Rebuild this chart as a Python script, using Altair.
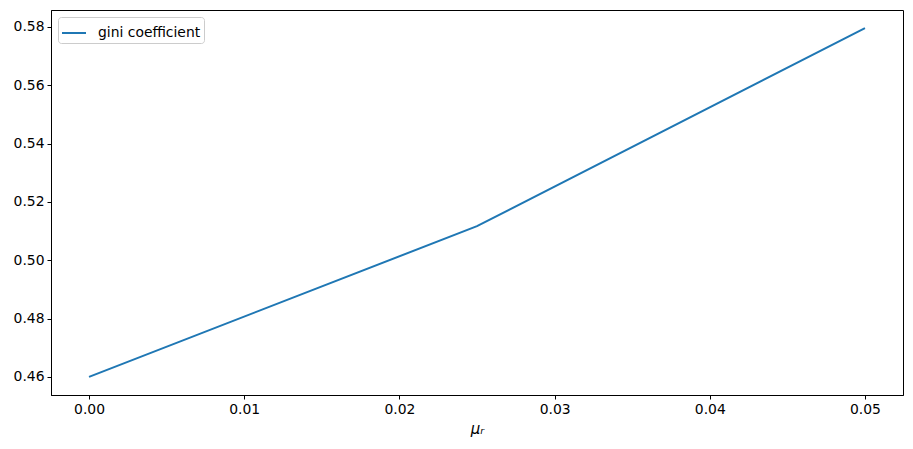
import altair as alt
import pandas as pd

mu_r = [0.0, 0.025, 0.05]
gini = [0.4600, 0.5117, 0.5796]
series_name = "gini coefficient"

x_ticks = [0.0, 0.01, 0.02, 0.03, 0.04, 0.05]
y_ticks = [0.46, 0.48, 0.50, 0.52, 0.54, 0.56, 0.58]

df = pd.DataFrame({"mu_r": mu_r, "gini": gini, "series": [series_name] * len(mu_r)})

FONT = "DejaVu Sans"

chart = alt.Chart(df).mark_line(strokeWidth=2).encode(
    x=alt.X("mu_r:Q",
            scale=alt.Scale(domain=[-0.00245, 0.05245], nice=False, zero=False),
            axis=alt.Axis(values=x_ticks, format=".2f", title="μᵣ",
                          titleFontStyle="italic", titleFontWeight="normal",
                          titleFontSize=15, titlePadding=6)),
    y=alt.Y("gini:Q",
            scale=alt.Scale(domain=[0.4538, 0.5858], nice=False, zero=False),
            axis=alt.Axis(values=y_ticks, format=".2f", title=None)),
    color=alt.Color("series:N",
                    scale=alt.Scale(range=["#1f77b4"]),
                    legend=alt.Legend(title=None, orient="top-left", offset=7,
                                      symbolType="stroke", symbolSize=576,
                                      symbolStrokeWidth=2, labelOffset=11,
                                      labelFontSize=13.9, labelFont=FONT,
                                      labelColor="black",
                                      padding=3, strokeColor="#cccccc",
                                      cornerRadius=3, fillColor="white")),
).properties(
    width=852, height=385,
    autosize=alt.AutoSizeParams(type="none"),
    padding={"left": 43, "top": 2, "right": 2, "bottom": 46},
).configure_view(
    stroke="black", strokeWidth=1
).configure_axis(
    grid=False, domainColor="black", tickColor="black", tickSize=4,
    labelFont=FONT, labelFontSize=13.9, labelColor="black",
    titleFont=FONT, titleColor="black", labelPadding=3
)

chart.save("out.html", embed_options={"renderer": "svg", "actions": False})
